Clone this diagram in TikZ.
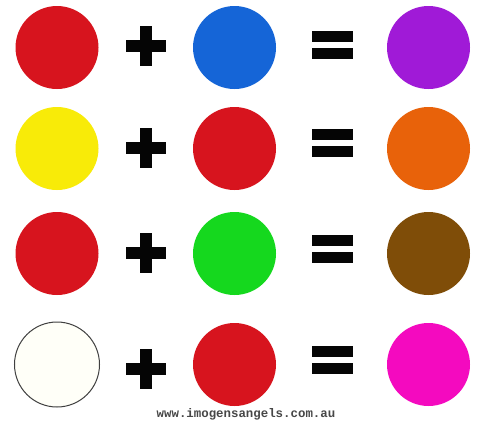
\documentclass[tikz,border=0pt]{standalone}
\usepackage{fontspec}
\newfontfamily\webfont{Liberation Mono}
\definecolor{cred}{HTML}{D7141E}
\definecolor{cblue}{HTML}{1565D7}
\definecolor{cpurple}{HTML}{A01AD7}
\definecolor{cyellow}{HTML}{F8EB08}
\definecolor{corange}{HTML}{E8620A}
\definecolor{cgreen}{HTML}{15D81E}
\definecolor{cbrown}{HTML}{7F4D08}
\definecolor{cwhite}{HTML}{FFFFF8}
\definecolor{cmagenta}{HTML}{F40ABF}
\definecolor{cblack}{HTML}{050505}
\tikzset{
  dot/.style={circle, minimum size=83pt, inner sep=0pt, fill=#1},
  plussign/.style={fill=cblack},
  eqsign/.style={fill=cblack},
}
\newcommand{\myplus}[2]{%
  \fill[plussign] (#1-20,#2-6) rectangle (#1+20,#2+6);
  \fill[plussign] (#1-6,#2-20) rectangle (#1+6,#2+20);}
\newcommand{\myeq}[2]{%
  \fill[eqsign] (#1-20.5,#2-14) rectangle (#1+20.5,#2-3);
  \fill[eqsign] (#1-20.5,#2+3) rectangle (#1+20.5,#2+14);}
\begin{document}
\begin{tikzpicture}[x=1pt,y=-1pt]
\useasboundingbox (0,0) rectangle (477,421);
\fill[white] (0,0) rectangle (477,421);
% row 1
\node[dot=cred] (a1) at (57,47.5) {};
\node[dot=cblue] (b1) at (234.5,47.5) {};
\node[dot=cpurple] (c1) at (428.5,47.5) {};
\myplus{146}{46}
\myeq{332.5}{45}
% row 2
\node[dot=cyellow] (a2) at (57,148.5) {};
\node[dot=cred] (b2) at (234.5,148.5) {};
\node[dot=corange] (c2) at (428.5,148.5) {};
\myplus{146}{148}
\myeq{332.5}{143}
% row 3
\node[dot=cred] (a3) at (57,253.5) {};
\node[dot=cgreen] (b3) at (234.5,253.5) {};
\node[dot=cbrown] (c3) at (428.5,253.5) {};
\myplus{146}{253}
\myeq{332.5}{249}
% row 4
\node[dot=cwhite, draw=black!75, line width=1pt, minimum size=85pt] (a4) at (57,364.5) {};
\node[dot=cred] (b4) at (234.5,364.5) {};
\node[dot=cmagenta] (c4) at (428.5,364.5) {};
\myplus{146}{369}
\myeq{332.5}{360}
\node[font=\webfont\bfseries\fontsize{12.4}{14}\selectfont, text=black!72, inner sep=0pt] (web) at (246,414) {www.imogensangels.com.au};
\end{tikzpicture}
\end{document}
